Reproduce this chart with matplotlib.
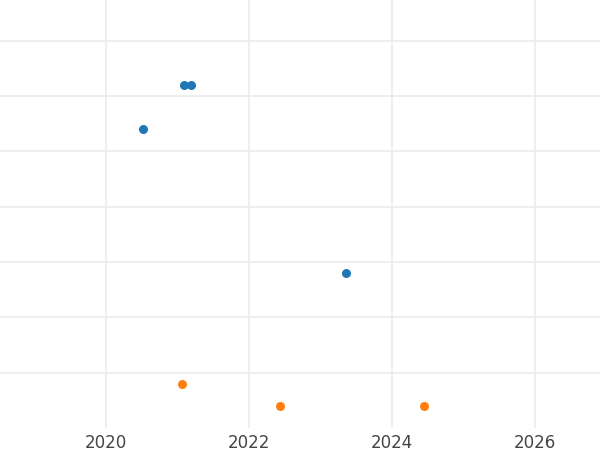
import matplotlib.pyplot as plt

blue_x = [2021.09, 2021.19, 2020.52, 2023.36]
blue_y = [6.2, 6.2, 5.4, 2.81]
orange_x = [2021.06, 2022.43, 2024.45]
orange_y = [0.8, 0.4, 0.4]

fig = plt.figure(figsize=(6, 4.5), dpi=100)
ax = fig.add_axes([0, 0.049, 1, 0.951])
ax.scatter(blue_x, blue_y, color='#1f77b4', s=30, zorder=3)
ax.scatter(orange_x, orange_y, color='#ff7f0e', s=30, zorder=3)

ax.set_xlim(2018.52, 2026.91)
ax.set_ylim(0, 7.74)
ax.set_xticks([2020, 2022, 2024, 2026])
ax.set_yticks([1, 2, 3, 4, 5, 6, 7])
ax.set_yticklabels([])
ax.grid(True, color='#ebebeb', linewidth=1.2)
ax.set_axisbelow(True)
for s in ax.spines.values():
    s.set_visible(False)
ax.tick_params(length=0, labelsize=12, labelcolor='#444444', pad=4)

fig.savefig('out.png')
